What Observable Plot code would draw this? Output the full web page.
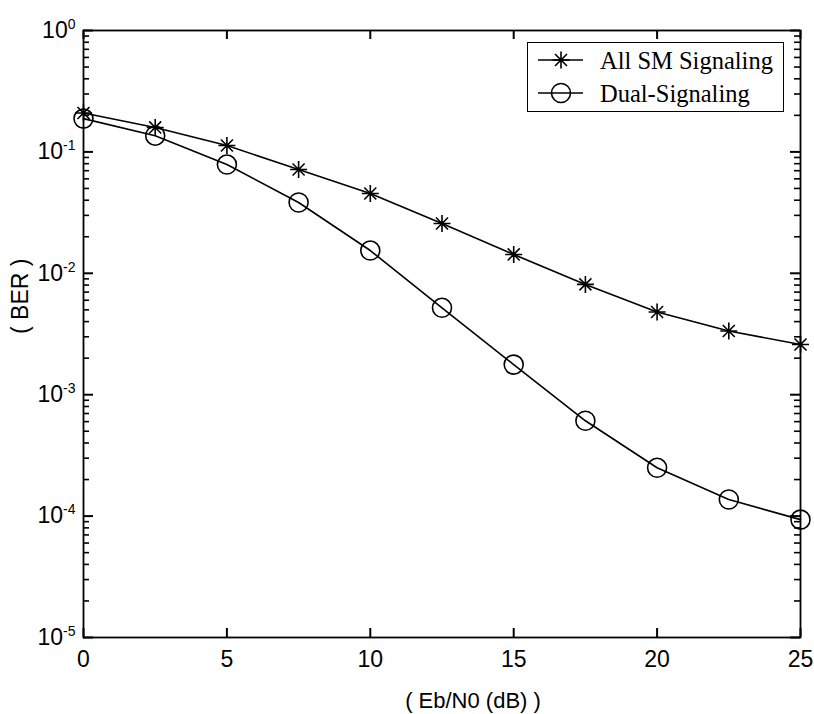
<!DOCTYPE html>
<html><head><meta charset="utf-8">
<script src="https://cdn.jsdelivr.net/npm/d3@7"></script>
<script src="https://cdn.jsdelivr.net/npm/@observablehq/plot@0.6"></script>
<style>
body{margin:0;background:#fff;}
#chart{position:relative;width:814px;height:714px;}
#legend{position:absolute;left:527px;top:42px;width:257px;height:70px;border:1.6px solid #000;box-sizing:border-box;background:#fff;}
</style></head><body><div id="chart"></div>
<script>
// ---- data ----
const snr = [0, 2.5, 5, 7.5, 10, 12.5, 15, 17.5, 20, 22.5, 25];
const berAllSM = [0.209, 0.159, 0.113, 0.0716, 0.0454, 0.0257, 0.0143, 0.0081, 0.0048, 0.00335, 0.00259];
const berDual = [0.188, 0.136, 0.0787, 0.0383, 0.0154, 0.0052, 0.00177, 0.00061, 0.00025, 0.000137, 0.0000935];
const seriesNames = ["All SM Signaling", "Dual-Signaling"];
const xTicks = [0, 5, 10, 15, 20, 25];
const yTicks = [1, 1e-1, 1e-2, 1e-3, 1e-4, 1e-5];
const yExponents = ["0", "-1", "-2", "-3", "-4", "-5"];
const xLabel = "( Eb/N0 (dB) )";
const yLabel = "( BER )";

const yMinorTicks = [];
for (const p of yTicks.slice(1)) for (let m = 2; m <= 9; m++) yMinorTicks.push(m * p);

const allSM = snr.map((x, i) => ({x, ber: berAllSM[i], series: seriesNames[0]}));
const dual = snr.map((x, i) => ({x, ber: berDual[i], series: seriesNames[1]}));

// 8-armed asterisk (plus + cross), MATLAB-style
const asterisk = {
  draw(ctx, size) {
    const r = Math.sqrt(size / Math.PI);
    const d = r * Math.SQRT1_2;
    ctx.moveTo(0, -r); ctx.lineTo(0, r);
    ctx.moveTo(-r, 0); ctx.lineTo(r, 0);
    ctx.moveTo(-d, -d); ctx.lineTo(d, d);
    ctx.moveTo(-d, d); ctx.lineTo(d, -d);
  }
};

const W = 814, H = 714, ML = 83, MR = 14, MT = 30, MB = 77;
const FW = W - ML - MR, FH = H - MT - MB;
const MAJ = 10, MIN = 6, XT = 9;

const font = "Liberation Sans, Arial, Helvetica, sans-serif";

const chart = Plot.plot({
  width: W,
  height: H,
  marginLeft: ML,
  marginRight: MR,
  marginTop: MT,
  marginBottom: MB,
  style: {fontFamily: font, fontSize: "23px", color: "black", background: "white", overflow: "visible"},
  x: {domain: [0, 25]},
  y: {type: "log", domain: [1e-5, 1]},
  marks: [
    // tick labels (no outward ticks)
    Plot.axisX({anchor: "bottom", ticks: xTicks, tickSize: 0, tickPadding: 13, tickFormat: d => String(d), label: null, fontSize: 23}),
    Plot.axisY({anchor: "left", ticks: yTicks, tickSize: 0, tickPadding: 8, tickFormat: d => "10^" + yExponents[yTicks.indexOf(d)], label: null, fontSize: 23}),
    // inward ticks on all four sides
    Plot.tickX(xTicks, {x: d => d, insetTop: FH - XT, stroke: "black", strokeWidth: 2}),
    Plot.tickX(xTicks, {x: d => d, insetBottom: FH - XT, stroke: "black", strokeWidth: 2}),
    Plot.tickY(yTicks, {y: d => d, insetRight: FW - MAJ, stroke: "black", strokeWidth: 2}),
    Plot.tickY(yTicks, {y: d => d, insetLeft: FW - MAJ, stroke: "black", strokeWidth: 2}),
    Plot.tickY(yMinorTicks, {y: d => d, insetRight: FW - MIN, stroke: "black", strokeWidth: 1.6}),
    Plot.tickY(yMinorTicks, {y: d => d, insetLeft: FW - MIN, stroke: "black", strokeWidth: 1.6}),
    Plot.frame({stroke: "black", strokeWidth: 1.8}),
    // series
    Plot.line(allSM, {x: "x", y: "ber", stroke: "black", strokeWidth: 1.6}),
    Plot.dot(allSM, {x: "x", y: "ber", symbol: asterisk, r: 8.5, stroke: "black", strokeWidth: 1.6, fill: "none"}),
    Plot.line(dual, {x: "x", y: "ber", stroke: "black", strokeWidth: 1.6}),
    Plot.dot(dual, {x: "x", y: "ber", symbol: "circle", r: 9.5, stroke: "black", strokeWidth: 1.6, fill: "none"}),
    // axis titles
    Plot.text([xLabel], {frameAnchor: "bottom", lineAnchor: "bottom", dy: 70, dx: 31, fontSize: 22, fill: "black"}),
    Plot.text([yLabel], {frameAnchor: "left", lineAnchor: "top", rotate: -90, dx: -72, fontSize: 23, fill: "black"})
  ]
});

// superscript exponents on y tick labels
d3.select(chart).selectAll('g[aria-label="y-axis tick label"] text').each(function () {
  const t = this.textContent;
  const parts = t.split("^");
  if (parts.length !== 2) return;
  this.textContent = "";
  const s = d3.select(this);
  s.append("tspan").text(parts[0]);
  s.append("tspan").attr("dy", "-9").attr("font-size", "14px").text(parts[1]);
});

const container = document.getElementById("chart");
container.appendChild(chart);

// legend overlay (inside the plot, top right)
const legend = d3.select(container).append("div").attr("id", "legend");
const lsvg = legend.append("svg").attr("width", 254).attr("height", 67).style("display", "block");
const rows = [
  {name: seriesNames[0], sym: "star", cy: 17},
  {name: seriesNames[1], sym: "circle", cy: 50}
];
for (const r of rows) {
  lsvg.append("line").attr("x1", 10).attr("x2", 55).attr("y1", r.cy).attr("y2", r.cy).attr("stroke", "black").attr("stroke-width", 1.6);
  if (r.sym === "circle") {
    lsvg.append("circle").attr("cx", 33).attr("cy", r.cy).attr("r", 9.5).attr("fill", "none").attr("stroke", "black").attr("stroke-width", 1.6);
  } else {
    const p = d3.path(); asterisk.draw(p, Math.PI * 8.5 * 8.5);
    lsvg.append("path").attr("d", p.toString()).attr("transform", `translate(33,${r.cy})`).attr("fill", "none").attr("stroke", "black").attr("stroke-width", 1.6);
  }
  lsvg.append("text").attr("x", 72).attr("y", r.cy + 8.5).attr("font-family", "Liberation Serif, Times New Roman, serif").attr("font-size", "24.5px").attr("fill", "black").text(r.name);
}
</script>
</body></html>
